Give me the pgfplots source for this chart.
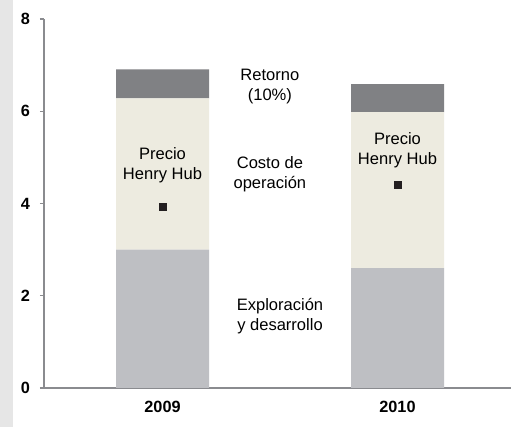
\documentclass[border=0pt]{standalone}
\usepackage{pgfplots}
\pgfplotsset{compat=1.18}
\usepackage{fontspec}
\setmainfont{Liberation Sans}
\definecolor{expl}{HTML}{BEBFC3}
\definecolor{costo}{HTML}{EDEBE0}
\definecolor{ret}{HTML}{808184}
\definecolor{axisgray}{HTML}{8A8B8F}
\definecolor{mk}{HTML}{231F20}
\definecolor{strip}{HTML}{E6E6E6}
\begin{document}
\begin{tikzpicture}[x=1pt,y=1pt]
\fill[white] (0,0) rectangle (383.25,320.25);
\fill[strip] (0,0) rectangle (9.75,320.25);
\useasboundingbox (0,0) rectangle (383.25,320.25);
\pgfplotsset{
  common/.style={
    at={(33pt,29.25pt)}, anchor=south west, scale only axis,
    width=350.25pt, height=276.75pt,
    xmin=-0.5043, xmax=1.483, ymin=0, ymax=8, clip=false,
  },
}
\begin{axis}[
  common,
  ybar stacked, bar width=69.75pt,
  axis x line=bottom, axis y line=left,
  axis line style={draw=axisgray, line width=1pt, -},
  ytick={0,2,4,6,8}, xtick={0,1}, xticklabels={2009,2010},
  tick align=outside, major tick length=3pt,
  ytick style={draw=axisgray, line width=0.8pt}, xtick style={draw=none},
  ticklabel style={font=\fontsize{12.2}{14}\selectfont\bfseries},
  yticklabel style={xshift=-4pt},
  xticklabel style={yshift=-3pt},
  /pgf/number format/assume math mode=true,
]
\addplot[fill=expl, draw=none] coordinates {(0,3.0) (1,2.6)};
\addplot[fill=costo, draw=none] coordinates {(0,3.28) (1,3.38)};
\addplot[fill=ret, draw=none] coordinates {(0,0.63) (1,0.61)};
\end{axis}
\begin{axis}[common, hide axis]
\addplot[only marks, mark=square*, mark size=2.6pt, color=mk] coordinates {(0,3.93) (1,4.41)};
\tikzset{lbl/.style={align=center, font=\fontsize{12.4}{15}\selectfont, text=black}}
\node[lbl] at (axis cs:0.457,6.53) {Retorno\\(10\%)};
\node[lbl] at (axis cs:0.457,4.64) {Costo de\\operación};
\node[lbl] at (axis cs:0.5,1.56) {Exploración\\y desarrollo};
\node[lbl] at (axis cs:0,4.83) {Precio\\Henry Hub};
\node[lbl] at (axis cs:1,5.16) {Precio\\Henry Hub};
\end{axis}
\end{tikzpicture}
\end{document}
